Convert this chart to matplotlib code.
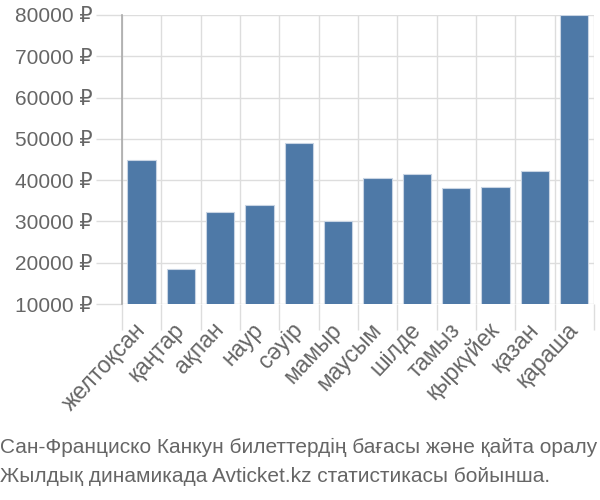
import numpy as np
import matplotlib.pyplot as plt
from matplotlib.ticker import FixedLocator

months = ['желтоқсан', 'қаңтар', 'ақпан', 'наур', 'сәуір', 'мамыр',
          'маусым', 'шілде', 'тамыз', 'қыркүйек', 'қазан', 'қараша']
prices = [44900, 18500, 32400, 33900, 49000, 30000,
          40400, 41500, 38200, 38400, 42300, 80000]
yticks = [10000, 20000, 30000, 40000, 50000, 60000, 70000, 80000]
footer = ['Сан-Франциско Канкун билеттердің бағасы және қайта оралу',
          'Жылдық динамикада Avticket.kz статистикасы бойынша.']

plt.rcParams['font.family'] = ['Liberation Sans', 'DejaVu Sans']

fig = plt.figure(figsize=(6, 5), dpi=100)
ax = fig.add_axes([0.203, 0.392, 0.787, 0.578])

x = np.arange(len(months))
ax.bar(x, prices, width=0.72, color='#4e79a7', edgecolor='#c8d4e3',
       linewidth=0.8, zorder=3)

ax.set_xlim(-0.5, len(months) - 0.5)
ax.set_ylim(10000, 80000)

ax.set_yticks(yticks)
ax.set_yticklabels([f'{v} ₽' for v in yticks], fontsize=15, color='#666666')
ax.set_xticks(x)
ax.set_xticklabels(months, rotation=47, ha='right', va='center',
                   rotation_mode='anchor', fontsize=16.5, color='#666666')
ax.xaxis.set_minor_locator(FixedLocator(np.arange(-0.5, len(months), 1)))

ax.tick_params(axis='x', which='major', length=0, pad=16)
ax.tick_params(axis='x', which='minor', length=19, color='#dddddd', width=1)
ax.tick_params(axis='y', length=19, color='#dddddd', width=1, pad=2)

ax.grid(axis='y', color='#dddddd', linewidth=1, zorder=0)
ax.grid(axis='x', which='minor', color='#dddddd', linewidth=1, zorder=0)

for s in ['top', 'right', 'bottom']:
    ax.spines[s].set_visible(False)
ax.spines['left'].set_color('#aaaaaa')
ax.spines['left'].set_linewidth(1.2)

for i, line in enumerate(footer):
    fig.text(0.0, 0.106 - i * 0.058, line, fontsize=15, color='#666666',
             family=['Liberation Sans Narrow', 'Liberation Sans', 'DejaVu Sans'],
             ha='left', va='center')

fig.savefig('out.png', dpi=100)
